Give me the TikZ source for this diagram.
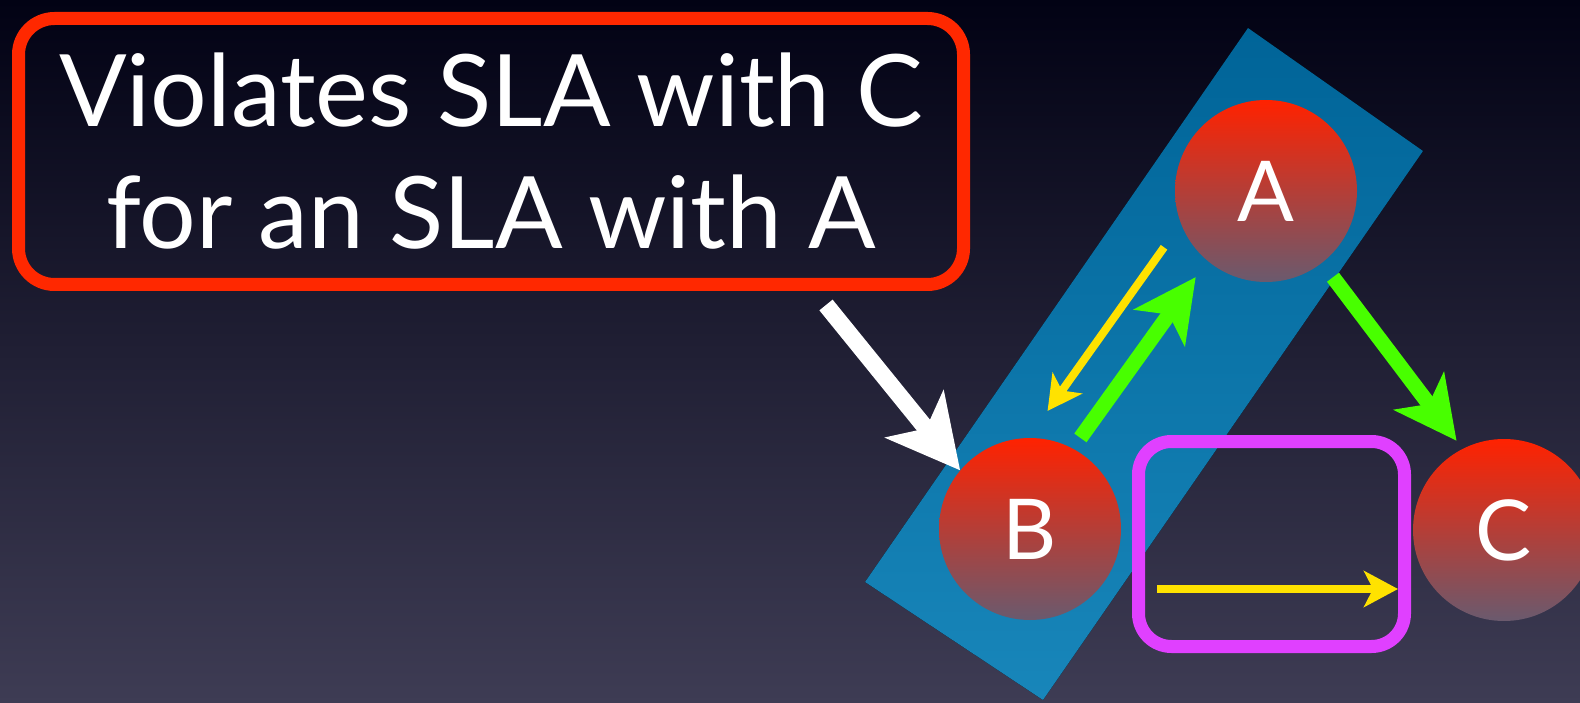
\documentclass[tikz,border=0pt]{standalone}
\usepackage{fontspec}
\setmainfont{Lato}
\usepackage{xcolor}
\usetikzlibrary{arrows.meta}

\definecolor{bgtop}{RGB}{2,2,20}
\definecolor{bgbottom}{RGB}{62,60,84}
\definecolor{bandtop}{RGB}{0,100,152}
\definecolor{bandbottom}{RGB}{24,134,186}
\definecolor{slared}{RGB}{255,40,0}
\definecolor{focuspink}{RGB}{224,64,255}
\definecolor{flowgreen}{RGB}{72,255,0}
\definecolor{replyyellow}{RGB}{255,226,0}
\definecolor{balltop}{RGB}{255,34,0}
\definecolor{ballmid}{RGB}{190,45,50}
\definecolor{ballbottom}{RGB}{106,90,110}

\begin{document}
\begin{tikzpicture}[
        x=1pt, y=-1pt,
        ball/.style={circle, minimum size=182pt, inner sep=0pt,
            top color=balltop, middle color=ballmid, bottom color=ballbottom,
            text=white, font=\fontsize{84}{84}\selectfont},
        callout/.style={draw=slared, line width=13pt, rounded corners=36pt, outer sep=0pt,
            minimum width=945pt, minimum height=266pt, align=center, text=white,
            font=\fontsize{100}{122}\selectfont},
        focus/.style={draw=focuspink, line width=13pt, rounded corners=33pt, outer sep=0pt,
            minimum width=266pt, minimum height=205pt},
        bigarrow/.style={-{Stealth[length=72pt, width=74pt, inset=18pt]}, line width=17pt, white},
        flow/.style={-{Stealth[length=62pt, width=62pt, inset=16pt]}, line width=15pt, flowgreen},
        reply/.style={-{Stealth[length=34pt, width=36pt, inset=9pt]}, line width=8pt, replyyellow}
    ]

    \useasboundingbox (0,0) rectangle (1580,703);
    \clip (0,0) rectangle (1580,703);

    % Background and the A-B group
    \fill[top color=bgtop, bottom color=bgbottom] (0,0) rectangle (1580,703);
    \fill[top color=bandtop, bottom color=bandbottom]
        (1248,28) -- (1423,151) -- (1043,700) -- (865,582) -- cycle;

    % Nodes
    \node[callout] (msg) at (491,151.5) {Violates SLA with C\\for an SLA with A};
    \node[focus] (sbox) at (1271.5,544) {};

    \node[ball] (A) at (1266,191) {A};
    \node[ball] (B) at (1030,529) {B};
    \node[ball] (C) at (1504,530) {C};

    % Arrows
    \draw[flow, shorten <=13pt, shorten >=20pt] (B.62) -- (A.230);
    \draw[reply, shorten <=29pt, shorten >=33pt] (A.201) -- (B.91);
    \draw[flow, shorten <=18pt, shorten >=10pt] (A.308) -- (C.117);
    \draw[reply] ([shift={(18.5,45)}]sbox.west) -- ([shift={(-6.5,45)}]sbox.east);

    % Callout pointer
    \coordinate (wstart) at (826,305);
    \draw[bigarrow] (wstart) -- (B.140);

\end{tikzpicture}
\end{document}
